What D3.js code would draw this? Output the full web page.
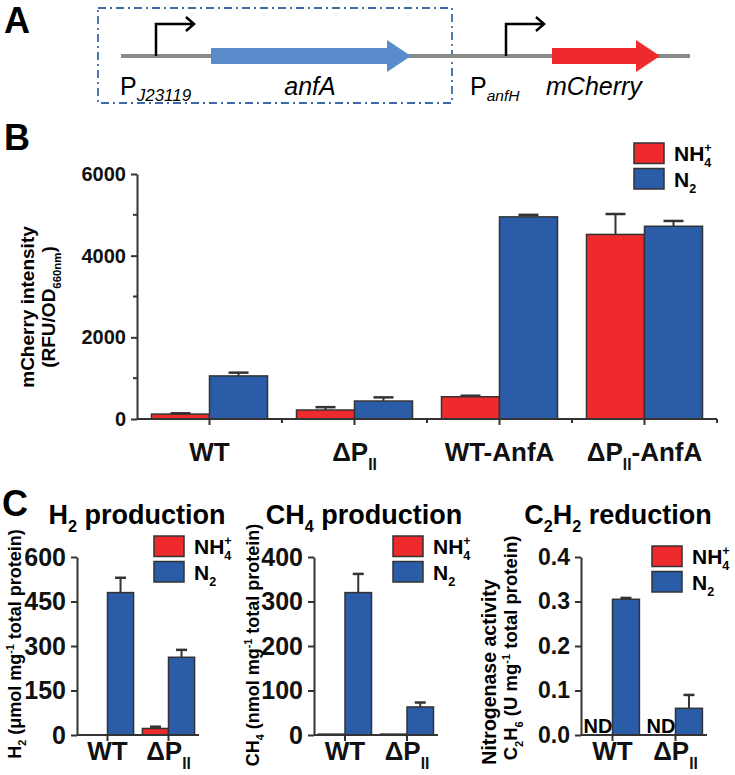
<!DOCTYPE html>
<html>
<head>
<meta charset="utf-8">
<script src="https://cdn.jsdelivr.net/npm/d3@7"></script>
<style>
  body { margin: 0; background: #fff; }
  svg { font-family: "Liberation Sans", Arial, sans-serif; }
</style>
</head>
<body>
<div id="fig"></div>
<script>
// data
var series = ["NH4+", "N2"];

var bCats = ["WT", "ΔPII", "WT-AnfA", "ΔPII-AnfA"];
var bNH4 = [120, 220, 545, 4520];
var bNH4Err = [20, 70, 25, 500];
var bN2 = [1055, 440, 4950, 4720];
var bN2Err = [80, 90, 50, 130];
var bTicks = [0, 2000, 4000, 6000];
var bMinor = [1000, 3000, 5000];

var cCats = ["WT", "ΔPII"];
var h2NH4 = [0, 22];
var h2NH4Err = [0, 6];
var h2N2 = [480, 262];
var h2N2Err = [50, 25];
var h2Ticks = [0, 150, 300, 450, 600];

var ch4NH4 = [2, 2];
var ch4NH4Err = [0, 0];
var ch4N2 = [320, 63];
var ch4N2Err = [42, 10];
var ch4Ticks = [0, 100, 200, 300, 400];

var c2NH4 = [null, null]; // not detected
var c2N2 = [0.305, 0.06];
var c2N2Err = [0.003, 0.03];
var c2Ticks = [0, 0.1, 0.2, 0.3, 0.4];

var RED = "#ee2a2d", BLUE = "#2a5ca8", EDGE = "#333";

var svg = d3.select("#fig").append("svg")
    .attr("width", 735).attr("height", 775);

// text with sub/superscripts; parts = [{t, shift, scale, stack}]
function rich(sel, parts, size) {
  var cur = 0, lastW = 0;
  parts.forEach(function(p) {
    var ts = sel.append("tspan").text(p.t);
    var target = (p.shift || 0) * size;
    ts.attr("dy", target - cur);
    cur = target;
    if (p.scale) ts.attr("font-size", size * p.scale);
    if (p.italic) ts.attr("font-style", "italic");
    if (p.stack) ts.attr("dx", -lastW);
    lastW = ts.node().getComputedTextLength();
  });
  return sel;
}

function catParts(c) {
  if (c == "ΔPII") return [{t: "ΔP"}, {t: "II", shift: 0.35, scale: 0.6}];
  if (c == "ΔPII-AnfA") return [{t: "ΔP"}, {t: "II", shift: 0.35, scale: 0.6}, {t: "-AnfA", shift: 0}];
  return [{t: c}];
}
var nh4Parts = [{t: "NH"}, {t: "4", shift: 0.3, scale: 0.6}, {t: "+", shift: -0.45, scale: 0.6, stack: true}];
var n2Parts = [{t: "N"}, {t: "2", shift: 0.3, scale: 0.6}];

function legend(x, y, size) {
  [[RED, nh4Parts], [BLUE, n2Parts]].forEach(function(d, i) {
    var yy = y + i * 25.5;
    svg.append("rect").attr("x", x).attr("y", yy).attr("width", 30).attr("height", 20.5)
      .attr("fill", d[0]).attr("stroke", EDGE).attr("stroke-width", 1.5);
    rich(svg.append("text").attr("x", x + 40).attr("y", yy + 18)
      .attr("font-weight", "bold").attr("font-size", size), d[1], size);
  });
}

function panel(o) {
  var g = svg.append("g");
  var y = d3.scaleLinear().domain(o.domain).range([o.y0, o.yTop]);
  var x0 = d3.scaleBand().domain(o.cats).range(o.xr);
  var x1 = d3.scaleBand().domain(series).range([0, x0.bandwidth()]).paddingOuter(o.pad);
  var vals = [o.nh4, o.n2], errs = [o.nh4Err, o.n2Err];

  o.cats.forEach(function(c, i) {
    series.forEach(function(s, j) {
      var v = vals[j][i];
      var bx = x0(c) + x1(s);
      if (v == null) {
        g.append("text").attr("x", bx + x1.bandwidth() / 2 - 1).attr("y", o.y0 - 2)
          .attr("text-anchor", "middle").attr("font-weight", "bold")
          .attr("font-size", 20).text("ND");
        return;
      }
      if (v <= 0) return;
      var e = errs[j] ? errs[j][i] : 0;
      var cx = bx + x1.bandwidth() / 2;
      if (e > 0) {
        g.append("line").attr("x1", cx).attr("x2", cx)
          .attr("y1", y(v)).attr("y2", y(v + e))
          .attr("stroke", EDGE).attr("stroke-width", 2);
        g.append("line").attr("x1", cx - o.cap / 2).attr("x2", cx + o.cap / 2)
          .attr("y1", y(v + e)).attr("y2", y(v + e))
          .attr("stroke", EDGE).attr("stroke-width", 2.5);
      }
      g.append("rect").attr("x", bx).attr("width", x1.bandwidth())
        .attr("y", y(v)).attr("height", o.y0 - y(v))
        .attr("fill", j == 0 ? RED : BLUE).attr("stroke", EDGE).attr("stroke-width", 1.5);
    });
  });

  // y axis
  var ya = g.append("g").attr("transform", "translate(" + o.xr[0] + ",0)")
    .call(d3.axisLeft(y).tickValues(o.ticks).tickSize(6).tickSizeOuter(0)
      .tickPadding(5).tickFormat(o.fmt || d3.format("d")));
  ya.selectAll("text").attr("font-size", o.tickFont).attr("font-weight", "bold")
    .attr("font-family", "Liberation Sans, Arial, sans-serif").attr("fill", "#111");
  if (o.minor) {
    o.minor.forEach(function(m) {
      g.append("line").attr("x1", o.xr[0] - 4).attr("x2", o.xr[0])
        .attr("y1", y(m)).attr("y2", y(m)).attr("stroke", EDGE).attr("stroke-width", 2);
    });
  }
  ya.selectAll("path, line").attr("stroke", EDGE).attr("stroke-width", 2);

  // x axis
  g.append("line").attr("x1", o.xr[0]).attr("x2", o.xr[1]).attr("y1", o.y0).attr("y2", o.y0)
    .attr("stroke", EDGE).attr("stroke-width", 2);
  o.cats.forEach(function(c) {
    var cx = x0(c) + x0.bandwidth() / 2;
    g.append("line").attr("x1", cx).attr("x2", cx).attr("y1", o.y0).attr("y2", o.y0 + 6)
      .attr("stroke", EDGE).attr("stroke-width", 2);
    rich(g.append("text").attr("x", cx).attr("y", o.catY).attr("text-anchor", "middle")
      .attr("font-weight", "bold").attr("font-size", o.catFont).attr("fill", "#111"),
      catParts(c), o.catFont);
  });
  if (o.xMinor) {
    o.cats.forEach(function(c, i) {
      [x0(c), x0(c) + x0.bandwidth()].forEach(function(bx, k) {
        if (i == 0 && k == 0) return;
        g.append("line").attr("x1", bx).attr("x2", bx).attr("y1", o.y0).attr("y2", o.y0 + 4)
          .attr("stroke", EDGE).attr("stroke-width", 2);
      });
    });
  }
  return g;
}

// ---------- panel A ----------
svg.append("text").attr("x", 4).attr("y", 33).attr("font-size", 36).attr("font-weight", "bold").text("A");
svg.append("rect").attr("x", 98).attr("y", 8).attr("width", 354).attr("height", 95)
  .attr("fill", "none").attr("stroke", "#3d6aa8").attr("stroke-width", 1.8)
  .attr("stroke-dasharray", "8,4,2,4");
svg.append("line").attr("x1", 121).attr("x2", 690).attr("y1", 56).attr("y2", 56)
  .attr("stroke", "#8a8a8a").attr("stroke-width", 4);
function geneArrow(x1, x2, col) {
  var h = 8, H = 16, head = 24;
  svg.append("path").attr("fill", col)
    .attr("d", "M" + x1 + "," + (56 - h) + "H" + (x2 - head) + "V" + (56 - H) + "L" + x2 + ",56L" +
      (x2 - head) + "," + (56 + H) + "V" + (56 + h) + "H" + x1 + "Z");
}
geneArrow(211, 411, "#5a8bcb");
geneArrow(552, 660, "#ee2a2d");
function promoter(x, x2) {
  svg.append("path").attr("fill", "none").attr("stroke", "#000").attr("stroke-width", 2.5)
    .attr("d", "M" + x + ",56V24H" + x2);
  svg.append("path").attr("fill", "none").attr("stroke", "#000").attr("stroke-width", 2.5)
    .attr("d", "M" + (x2 - 8) + ",17L" + x2 + ",24L" + (x2 - 8) + ",31");
}
promoter(156, 194);
promoter(506, 544);
rich(svg.append("text").attr("x", 120).attr("y", 95).attr("font-size", 25),
  [{t: "P"}, {t: "J23119", shift: 0.25, scale: 0.68, italic: true}], 25);
svg.append("text").attr("x", 310).attr("y", 95).attr("font-size", 25).attr("font-style", "italic")
  .attr("text-anchor", "middle").text("anfA");
rich(svg.append("text").attr("x", 470).attr("y", 95).attr("font-size", 25),
  [{t: "P"}, {t: "anfH", shift: 0.25, scale: 0.62, italic: true}], 25);
svg.append("text").attr("x", 546).attr("y", 95).attr("font-size", 25).attr("font-style", "italic")
  .text("mCherry");

// ---------- panel B ----------
svg.append("text").attr("x", 4).attr("y", 150).attr("font-size", 36).attr("font-weight", "bold").text("B");
panel({cats: bCats, nh4: bNH4, nh4Err: bNH4Err, n2: bN2, n2Err: bN2Err,
  domain: [0, 6000], y0: 419, yTop: 174, xr: [137, 717], pad: 0.25, cap: 20,
  ticks: bTicks, minor: bMinor, tickFont: 20, catFont: 26, catY: 461, xMinor: true});
legend(634, 143, 21);
svg.append("text").attr("transform", "translate(34,307) rotate(-90)")
  .attr("text-anchor", "middle").attr("font-weight", "bold").attr("font-size", 19)
  .text("mCherry intensity");
rich(svg.append("text").attr("transform", "translate(55,307) rotate(-90)")
  .attr("text-anchor", "middle").attr("font-weight", "bold").attr("font-size", 19),
  [{t: "(RFU/OD"}, {t: "660nm", shift: 0.3, scale: 0.6}, {t: ")", shift: 0}], 19);

// ---------- panel C ----------
svg.append("text").attr("x", 2).attr("y", 516).attr("font-size", 36).attr("font-weight", "bold").text("C");
function title(x, parts) {
  rich(svg.append("text").attr("x", x).attr("y", 524).attr("text-anchor", "middle")
    .attr("font-weight", "bold").attr("font-size", 27), parts, 27);
}
title(137, [{t: "H"}, {t: "2", shift: 0.3, scale: 0.6}, {t: " production", shift: 0}]);
title(364, [{t: "CH"}, {t: "4", shift: 0.3, scale: 0.6}, {t: " production", shift: 0}]);
title(618, [{t: "C"}, {t: "2", shift: 0.3, scale: 0.6}, {t: "H", shift: 0}, {t: "2", shift: 0.3, scale: 0.6}, {t: " reduction", shift: 0}]);

panel({cats: cCats, nh4: h2NH4, nh4Err: h2NH4Err, n2: h2N2, n2Err: h2N2Err,
  domain: [0, 600], y0: 735, yTop: 557, xr: [77, 199], pad: 0.17, cap: 11,
  ticks: h2Ticks, tickFont: 25, catFont: 26, catY: 760});
panel({cats: cCats, nh4: ch4NH4, nh4Err: ch4NH4Err, n2: ch4N2, n2Err: ch4N2Err,
  domain: [0, 400], y0: 735, yTop: 557, xr: [314, 438], pad: 0.17, cap: 11,
  ticks: ch4Ticks, tickFont: 25, catFont: 26, catY: 760});
panel({cats: cCats, nh4: c2NH4, nh4Err: null, n2: c2N2, n2Err: c2N2Err,
  domain: [0, 0.4], y0: 735, yTop: 557, xr: [581, 707], pad: 0.17, cap: 11,
  ticks: c2Ticks, tickFont: 23, catFont: 26, catY: 760, fmt: d3.format(".1f")});

legend(154, 536, 21);
legend(393, 536, 21);
legend(652, 546, 21);

function ylab(x, yc, parts, size, weight) {
  rich(svg.append("text").attr("transform", "translate(" + x + "," + yc + ") rotate(-90)")
    .attr("text-anchor", "middle").attr("font-weight", weight).attr("font-size", size), parts, size);
}
var mgParts = [{t: " mg", shift: 0}, {t: "-1", shift: -0.4, scale: 0.6}, {t: " total protein)", shift: 0}];
ylab(21, 644, [{t: "H"}, {t: "2", shift: 0.3, scale: 0.6}, {t: " (μmol", shift: 0}].concat(mgParts), 18, "bold");
ylab(259, 645, [{t: "CH"}, {t: "4", shift: 0.3, scale: 0.6}, {t: " (nmol", shift: 0}].concat(mgParts), 18, "bold");
ylab(496, 672, [{t: "Nitrogenase activity"}], 19.5, "bold");
ylab(517, 648, [{t: "C"}, {t: "2", shift: 0.3, scale: 0.6}, {t: "H", shift: 0}, {t: "6", shift: 0.3, scale: 0.6}, {t: " (U", shift: 0}].concat(mgParts), 18.5, "bold");
</script>
</body>
</html>
